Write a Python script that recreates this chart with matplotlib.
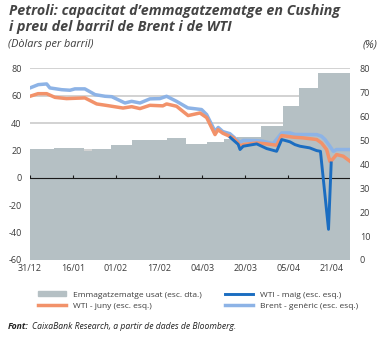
import matplotlib
matplotlib.use("Agg")
import matplotlib.pyplot as plt
from matplotlib.patches import Patch
from matplotlib.lines import Line2D

plt.rcParams['font.family'] = ['Open Sans', 'DejaVu Sans']
plt.rcParams['axes.unicode_minus'] = False

# Days counted from 31/12/2019
tick_days = [0, 16, 32, 48, 64, 80, 96, 112]
tick_labels = ['31/12', '16/01', '01/02', '17/02', '04/03', '20/03', '05/04', '21/04']

# Cushing storage used (%), step series (right axis)
storage_days = [0, 9, 20, 23, 30, 38, 47, 51, 58, 66, 72, 77, 86, 94, 100, 107, 119]
storage_pct = [46.3, 46.8, 45.5, 46.4, 47.9, 50.0, 50.0, 51.1, 48.6, 49.3, 50.4, 51.4,
               56.0, 64.2, 71.8, 78.2, 78.2]

# Brent generic ($/bbl, left axis)
brent_days = [0, 3.1, 6.2, 7.4, 11.8, 14.9, 16.7, 20.4, 24.2, 27.9, 30.4, 35.3, 37.8,
              40.9, 44.6, 48.3, 50.8, 54.5, 58.7, 63.8, 65.7, 68.8, 70, 71.7, 74.3,
              76.8, 78.1, 79.3, 84.3, 86.7, 90.4, 93.6, 96.7, 98.5, 106.6, 108.4,
              109.7, 111.5, 112.8, 114, 119]
brent = [65.7, 68.1, 68.6, 65.7, 64.4, 64.0, 65.0, 65.0, 60.8, 59.6, 59.3, 54.7, 55.9,
         54.7, 57.7, 57.9, 59.6, 55.9, 51.1, 49.9, 46.2, 34.0, 36.8, 33.8, 32.3,
         28.0, 26.0, 27.4, 27.2, 26.7, 25.0, 32.8, 32.8, 31.7, 31.6, 30.4,
         28.0, 23.1, 19.4, 20.7, 20.7]

# WTI June contract
wti_jun_days = [0, 3, 6.2, 9.3, 13.6, 20.4, 24.8, 28.5, 34.6, 37.8, 40.9, 44.6, 49.4,
                50.8, 54.5, 58.8, 63.2, 65.7, 68.8, 69.9, 71.7, 75.6, 77.4, 78.1, 79.3,
                84.3, 88, 91.7, 93.6, 97.9, 101.6, 106.6, 108.4, 110.3, 111.5, 112.1,
                114, 116.5, 119]
wti_jun = [59.6, 61.5, 61.5, 58.8, 57.9, 58.4, 54.0, 52.9, 51.0, 52.0, 50.6, 53.0, 52.6,
           54.0, 52.3, 45.5, 47.4, 44.0, 31.6, 35.2, 32.6, 29.2, 25.5, 23.1, 24.3,
           25.5, 24.8, 23.8, 30.9, 29.7, 29.2, 28.0, 25.5, 20.7, 12.1, 12.6,
           17.0, 15.8, 12.1]

# WTI May contract
wti_may_days = [74.5, 77.4, 78.1, 79.3, 84.3, 88, 91.7, 93.6, 96.7, 98.5, 100.4, 104,
                106.6, 108, 111, 112]
wti_may = [29.5, 24.5, 20.7, 23.1, 24.8, 21.4, 19.4, 28.0, 26.3, 24.3, 23.1, 21.9,
           19.9, 19.4, -37.6, 10.9]

txt = '#3c3c3c'
fig = plt.figure(figsize=(3.81, 3.38), dpi=100)

# host axis: left scale + grid (bottom layer)
ax = fig.add_axes([0.0787, 0.2308, 0.84, 0.567])
ax.set_ylim(-60, 80)
ax.set_xlim(0, 119)
ax.set_yticks(range(-60, 81, 20))
ax.set_xticks(tick_days)
ax.set_xticklabels(tick_labels)
ax.grid(True, axis='y', color='#c6c6c6', linewidth=1.1, linestyle='-')
ax.set_axisbelow(True)

# storage area on the right scale
ax2 = ax.twinx()
ax2.set_ylim(0, 80)
ax2.set_yticks(range(0, 81, 10))
ax2.fill_between(storage_days, storage_pct, 0, step='post', color='#b5c0c4', lw=0)

# prices on top, same scale as the host
ax3 = ax.twinx()
ax3.set_ylim(-60, 80)
ax3.set_yticks([])
ax3.axhline(0, color='#1a1a1a', lw=0.8)
ax3.vlines(tick_days[:-1], 0, 2, color='#1a1a1a', lw=0.8)
ax3.plot(brent_days, brent, color='#8db3e6', lw=2.5)
ax3.plot(wti_jun_days, wti_jun, color='#f2926a', lw=2.5)
ax3.plot(wti_may_days, wti_may, color='#1b6dc1', lw=2.1)

for a in (ax, ax2, ax3):
    for s in a.spines.values():
        s.set_visible(False)
ax.tick_params(axis='both', length=0, labelsize=6.5, colors=txt)
ax.tick_params(axis='y', pad=6)
ax.tick_params(axis='x', pad=3)
ax2.tick_params(axis='y', length=0, labelsize=6.5, colors=txt, pad=7)

title = fig.text(0.024, 0.988,
                 "Petroli: capacitat d\u2019emmagatzematge en Cushing\ni preu del barril de Brent i de WTI",
                 fontsize=10.3, fontweight='bold', style='italic', color='#444444',
                 va='top', ha='left', linespacing=1.2)
fig.canvas.draw()
w = title.get_window_extent().width
title.set_fontsize(10.3 * 329 / w)

fig.text(0.022, 0.868, "(D\u00f2lars per barril)", fontsize=7.8, style='italic', color=txt, va='center')
fig.text(0.99, 0.868, "(%)", fontsize=7.8, style='italic', color=txt, va='center', ha='right')

handles = [Patch(color='#b5c0c4'),
           Line2D([], [], color='#f2926a', lw=2.5),
           Line2D([], [], color='#1b6dc1', lw=2.1),
           Line2D([], [], color='#8db3e6', lw=2.5)]
labels = ['Emmagatzematge usat (esc. dta.)', 'WTI - juny (esc. esq.)',
          'WTI - maig (esc. esq.)', 'Brent - gen\u00e8ric (esc. esq.)']
fig.legend(handles, labels, ncol=2, loc='center', bbox_to_anchor=(0.52, 0.111),
           frameon=False, fontsize=6, labelcolor=txt, handlelength=3.4,
           handleheight=0.5, columnspacing=2.8, labelspacing=0.45, handletextpad=0.8)

fig.text(0.02, 0.035, "Font:", fontsize=6.2, fontweight='bold', style='italic', color='#222222', va='center')
fig.text(0.083, 0.035, "CaixaBank Research, a partir de dades de Bloomberg.", fontsize=6.2,
         style='italic', color='#222222', va='center')

fig.savefig('out.png', dpi=100)
